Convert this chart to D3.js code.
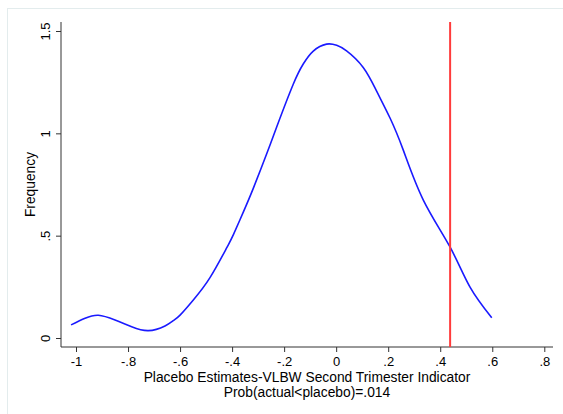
<!DOCTYPE html>
<html>
<head>
<meta charset="utf-8">
<script src="https://cdn.jsdelivr.net/npm/d3@7"></script>
<style>
  body { margin: 0; background: #fff; }
  text { font-family: "Liberation Sans", Arial, Helvetica, sans-serif; fill: #000; }
</style>
</head>
<body>
<div id="chart"></div>
<script>
// placebo estimate (x) and kernel density (y)
var estimates = [-1.019, -0.965, -0.914, -0.850, -0.786, -0.722, -0.658, -0.626, -0.600, -0.549,
                 -0.485, -0.421, -0.395, -0.357, -0.319, -0.267, -0.229, -0.165, -0.126, -0.088,
                 -0.037, 0.002, 0.040, 0.104, 0.156, 0.207, 0.258, 0.335, 0.437, 0.514, 0.598];
var density = [0.064, 0.096, 0.111, 0.088, 0.055, 0.036, 0.059, 0.085, 0.112, 0.186,
               0.295, 0.440, 0.505, 0.615, 0.730, 0.900, 1.030, 1.240, 1.340, 1.402,
               1.436, 1.430, 1.403, 1.322, 1.205, 1.075, 0.918, 0.674, 0.446, 0.250, 0.099];
var actualEstimate = 0.438;
var xTicks = [-1, -0.8, -0.6, -0.4, -0.2, 0, 0.2, 0.4, 0.6, 0.8];
var yTicks = [0, 0.5, 1, 1.5];
var xTitle = ["Placebo Estimates-VLBW Second Trimester Indicator", "Prob(actual<placebo)=.014"];
var yTitle = "Frequency";

var W = 563, H = 414;
// plot region edges (not "top": that one is taken by window.top)
var pLeft = 61, pRight = 553, pTop = 22, pBottom = 347;

var svg = d3.select("#chart").append("svg")
    .attr("width", W)
    .attr("height", H);

// faint outer graph border
svg.append("rect")
    .attr("x", 7.5).attr("y", 8.5)
    .attr("width", 570).attr("height", 420)
    .attr("fill", "none")
    .attr("stroke", "#e3eced");

var x = d3.scaleLinear().domain([-1, 0.8]).range([76, 544.3]);
var y = d3.scaleLinear().domain([0, 1.5]).range([338, 31]);

// stata style labels: -.8, .5, 1.5
function fmt(v) {
  var s = String(+v.toFixed(2));
  return s.replace(/^0\./, ".").replace(/^-0\./, "-.");
}

// x axis
var gx = svg.append("g").attr("transform", "translate(0," + pBottom + ")");
gx.call(d3.axisBottom(x).tickValues(xTicks).tickSize(5).tickFormat(fmt))
    .call(function(g) { g.select(".domain").remove(); });
gx.append("line").attr("x1", pLeft).attr("x2", pRight)
    .attr("stroke", "#333").attr("stroke-width", 1);
gx.selectAll(".tick line").attr("stroke", "#333");
gx.selectAll(".tick text").attr("font-size", 13).attr("fill", "#000")
    .attr("font-family", "Liberation Sans, Arial, sans-serif")
    .attr("dy", null).attr("y", 19);

// y axis
var gy = svg.append("g").attr("transform", "translate(" + pLeft + ",0)");
gy.call(d3.axisLeft(y).tickValues(yTicks).tickSize(5).tickFormat(fmt))
    .call(function(g) { g.select(".domain").remove(); });
gy.append("line").attr("y1", pTop).attr("y2", pBottom)
    .attr("stroke", "#333").attr("stroke-width", 1);
gy.selectAll(".tick line").attr("stroke", "#333");
gy.selectAll(".tick text").attr("font-size", 13).attr("fill", "#000")
    .attr("font-family", "Liberation Sans, Arial, sans-serif")
    .attr("x", null).attr("dy", null)
    .attr("text-anchor", "middle")
    .attr("transform", "translate(-11,0) rotate(-90)");

// axis titles
svg.append("text")
    .attr("x", (pLeft + pRight) / 2).attr("y", 381.5)
    .attr("text-anchor", "middle").attr("font-size", 13.8)
    .text(xTitle[0]);
svg.append("text")
    .attr("x", (pLeft + pRight) / 2).attr("y", 396.5)
    .attr("text-anchor", "middle").attr("font-size", 13.8)
    .text(xTitle[1]);
svg.append("text")
    .attr("transform", "translate(35," + (pTop + pBottom) / 2 + ") rotate(-90)")
    .attr("text-anchor", "middle").attr("font-size", 13.8)
    .text(yTitle);

// density curve
var pts = estimates.map(function(d, i) { return [d, density[i]]; });
var line = d3.line()
    .x(function(d) { return x(d[0]); })
    .y(function(d) { return y(d[1]); })
    .curve(d3.curveNatural);

svg.append("path")
    .datum(pts)
    .attr("d", line)
    .attr("fill", "none")
    .attr("stroke", "#1a1aff")
    .attr("stroke-width", 1.6);

// actual estimate
svg.append("line")
    .attr("x1", x(actualEstimate)).attr("x2", x(actualEstimate))
    .attr("y1", pTop).attr("y2", pBottom)
    .attr("stroke", "#ff3b3b")
    .attr("stroke-width", 2);
</script>
</body>
</html>
